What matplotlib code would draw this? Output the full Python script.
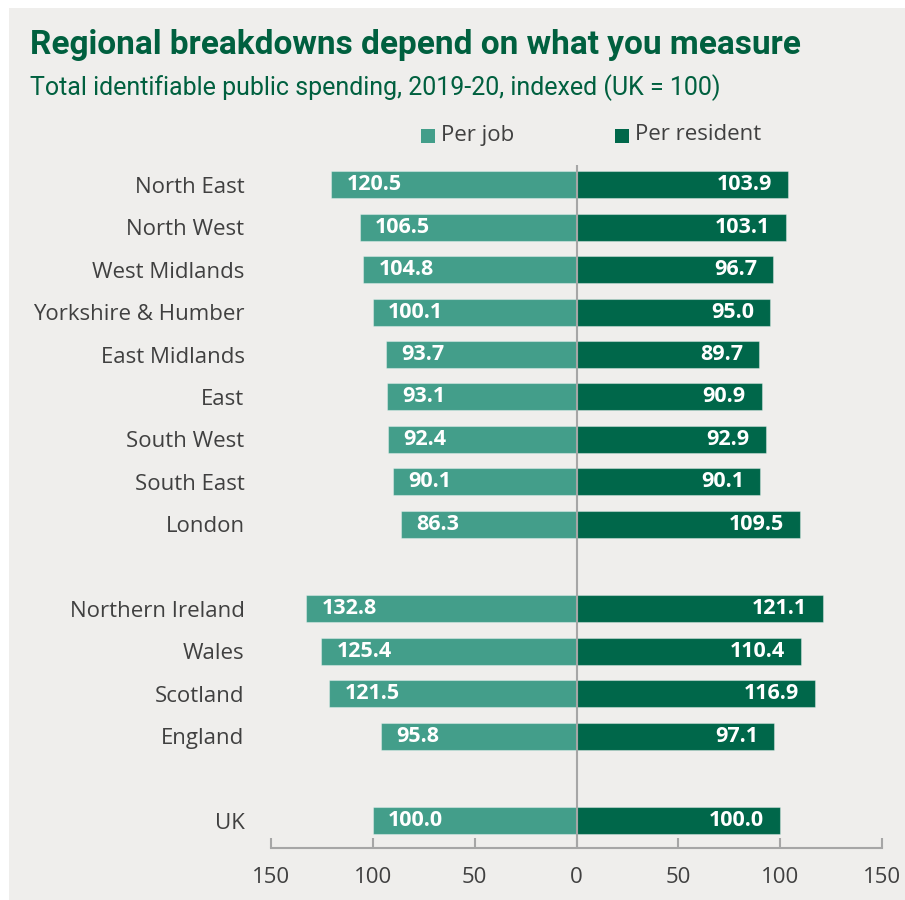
import matplotlib
matplotlib.use("Agg")
import matplotlib.pyplot as plt
from matplotlib.patches import Rectangle
from matplotlib.ticker import FuncFormatter

regions = ["North East", "North West", "West Midlands", "Yorkshire & Humber",
           "East Midlands", "East", "South West", "South East", "London",
           "Northern Ireland", "Wales", "Scotland", "England", "UK"]
per_job = [120.5, 106.5, 104.8, 100.1, 93.7, 93.1, 92.4, 90.1, 86.3,
           132.8, 125.4, 121.5, 95.8, 100.0]
per_resident = [103.9, 103.1, 96.7, 95.0, 89.7, 90.9, 92.9, 90.1, 109.5,
                121.1, 110.4, 116.9, 97.1, 100.0]
# row slots, leaving a blank slot between the English regions, the nations and the UK
rows = [0, 1, 2, 3, 4, 5, 6, 7, 8, 10, 11, 12, 13, 15]
ticks = [-150, -100, -50, 0, 50, 100, 150]

BG = "#EFEEEC"
JOB = "#439E8A"
RES = "#00674A"
TITLE = "#00603F"
TEXT = "#404040"
AXIS = "#A6A6A6"
FONT = "Open Sans"

fig = plt.figure(figsize=(9.05, 9.0), dpi=100)
fig.patch.set_facecolor("white")
fig.add_artist(Rectangle((9 / 905, 0), 1, 1 - 8 / 900, transform=fig.transFigure,
                         facecolor=BG, edgecolor="none", zorder=-10))

ax = fig.add_axes([271 / 905, 1 - 848 / 900, (882 - 271) / 905, (848 - 165) / 900])
ax.set_facecolor("none")

h = 0.64
edge = (1, 1, 1, 0.35)
ax.barh(rows, [-v for v in per_job], height=h, color=JOB, edgecolor=edge,
        linewidth=0.8, zorder=2)
ax.barh(rows, per_resident, height=h, color=RES, edgecolor=edge,
        linewidth=0.8, zorder=2)

for r, vj, vr in zip(rows, per_job, per_resident):
    ax.annotate(f"{vj:.1f}", xy=(-vj, r), xytext=(11, 0), textcoords="offset points",
                ha="left", va="center", color="white", fontsize=15.5,
                fontweight="bold", family=FONT, zorder=4)
    ax.annotate(f"{vr:.1f}", xy=(vr, r), xytext=(-11.5, 0), textcoords="offset points",
                ha="right", va="center", color="white", fontsize=15.5,
                fontweight="bold", family=FONT, zorder=4)

ax.axvline(0, color=AXIS, linewidth=1.5, zorder=3)

ax.set_xlim(-150, 150)
ax.set_ylim(15.64, -0.47)
ax.set_xticks(ticks)
ax.xaxis.set_major_formatter(FuncFormatter(lambda v, p: f"{abs(v):.0f}"))
ax.set_yticks(rows)
ax.set_yticklabels(regions)
ax.tick_params(axis="y", length=0, pad=19, labelsize=16, labelcolor=TEXT)
ax.tick_params(axis="x", direction="in", length=7, width=1.5, color=AXIS,
               pad=14, labelsize=16, labelcolor=TEXT)
for lab in ax.get_xticklabels() + ax.get_yticklabels():
    lab.set_fontfamily(FONT)
for side in ("top", "right", "left"):
    ax.spines[side].set_visible(False)
ax.spines["bottom"].set_color(AXIS)
ax.spines["bottom"].set_linewidth(1.5)

# legend
fig.add_artist(Rectangle((421 / 905, 1 - 143 / 900), 14 / 905, 14 / 900,
                         transform=fig.transFigure, facecolor=JOB, edgecolor="none"))
fig.text(441 / 905, 1 - 135 / 900, "Per job", ha="left", va="center",
         fontsize=16, color=TEXT, family=FONT)
fig.add_artist(Rectangle((615 / 905, 1 - 143 / 900), 14 / 905, 14 / 900,
                         transform=fig.transFigure, facecolor=RES, edgecolor="none"))
fig.text(635 / 905, 1 - 135 / 900, "Per resident", ha="left", va="center",
         fontsize=16, color=TEXT, family=FONT)

fig.text(30 / 905, 1 - 45 / 900, "Regional breakdowns depend on what you measure",
         ha="left", va="center", fontsize=24, fontweight="bold", color=TITLE,
         family="Roboto")
fig.text(30 / 905, 1 - 88 / 900,
         "Total identifiable public spending, 2019-20, indexed (UK = 100)",
         ha="left", va="center", fontsize=18, color=TITLE, family="Roboto")

fig.savefig("out.png", dpi=100, facecolor=fig.get_facecolor())
